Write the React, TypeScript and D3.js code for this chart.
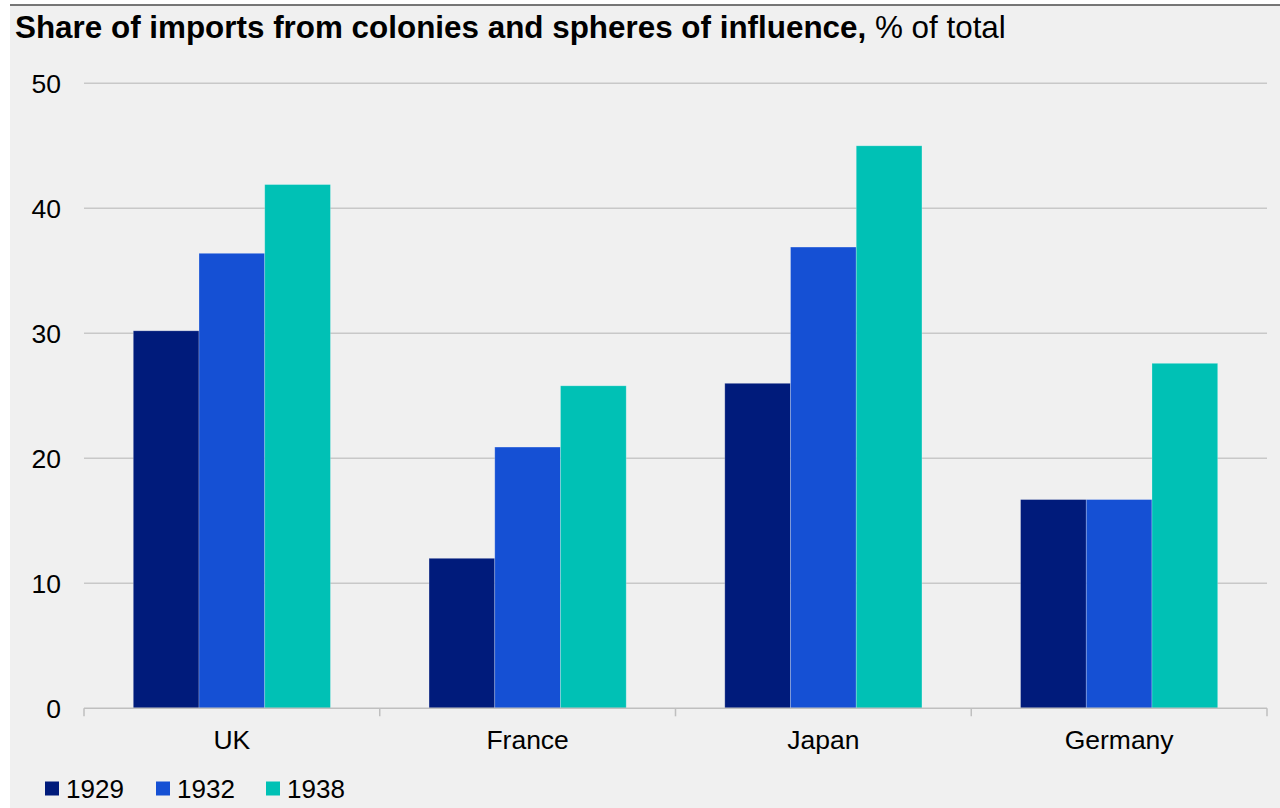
import React from "react";
import * as d3 from "d3";

// Share of imports from colonies and spheres of influence, % of total
const countries = ["UK", "France", "Japan", "Germany"];
const years = ["1929", "1932", "1938"];
const values1929 = [30.2, 12.0, 26.0, 16.7];
const values1932 = [36.4, 20.9, 36.9, 16.7];
const values1938 = [41.9, 25.8, 45.0, 27.6];
const yTicks = [0, 10, 20, 30, 40, 50];
const seriesColors = ["#001b7b", "#1550d4", "#00c1b5"];

const W = 1280;
const H = 808;
const FONT = "'Liberation Sans', Arial, Helvetica, sans-serif";

export default function App() {
  const series = [values1929, values1932, values1938];

  const x = d3.scaleBand<string>().domain(countries).range([84, 1267]).paddingInner(0).paddingOuter(0);
  const xi = d3
    .scaleBand<string>()
    .domain(years)
    .range([0, x.bandwidth()])
    .paddingInner(0)
    .paddingOuter(0.75);
  const y = d3.scaleLinear().domain([0, 50]).range([708.3, 83.3]);

  const tickXs = [...countries.map((c) => x(c) as number), 1267];

  return (
    <svg
      width={W}
      height={H}
      style={{ position: "absolute", left: 0, top: 0, display: "block" }}
      fontFamily={FONT}
    >
      <rect x={0} y={0} width={W} height={H} fill="#ffffff" />
      <rect x={10} y={5.5} width={W - 10} height={H - 5.5} fill="#f0f0f0" />
      <line x1={10} x2={W} y1={5} y2={5} stroke="#4a4a4a" strokeWidth={1.4} />

      {/* Title */}
      <text x={15} y={38} fontSize={31.4} fill="#000">
        <tspan fontWeight="bold">Share of imports from colonies and spheres of influence,</tspan>
        <tspan> % of total</tspan>
      </text>

      {/* Gridlines and y labels */}
      {yTicks.map((t) => (
        <g key={t}>
          {t > 0 && (
            <line x1={84} x2={1267} y1={y(t)} y2={y(t)} stroke="#c8c8c8" strokeWidth={1.5} />
          )}
          <text x={61} y={y(t) + 9.5} fontSize={26.5} textAnchor="end" fill="#000">
            {t}
          </text>
        </g>
      ))}

      {/* Bars */}
      {countries.map((c, ci) => (
        <g key={c} transform={`translate(${x(c)},0)`}>
          {years.map((yr, si) => {
            const v = series[si][ci];
            return (
              <rect
                key={yr}
                x={xi(yr)}
                y={y(v)}
                width={xi.bandwidth()}
                height={y(0) - y(v)}
                fill={seriesColors[si]}
                stroke="#ffffff"
                strokeOpacity={0.3}
                strokeWidth={0.8}
              />
            );
          })}
        </g>
      ))}

      {/* X axis */}
      <line x1={84} x2={1267} y1={y(0)} y2={y(0)} stroke="#bfbfbf" strokeWidth={1.5} />
      {tickXs.map((tx, i) => (
        <line key={i} x1={tx} x2={tx} y1={y(0)} y2={y(0) + 8} stroke="#bfbfbf" strokeWidth={1.5} />
      ))}
      {countries.map((c) => (
        <text
          key={c}
          x={(x(c) as number) + x.bandwidth() / 2}
          y={749}
          fontSize={26.5}
          textAnchor="middle"
          fill="#000"
        >
          {c}
        </text>
      ))}

      {/* Legend */}
      {years.map((yr, i) => {
        const lx = [45, 156, 266][i];
        return (
          <g key={yr}>
            <rect x={lx} y={781.5} width={14} height={14} fill={seriesColors[i]} />
            <text x={lx + 21} y={797.5} fontSize={26} fill="#000">
              {yr}
            </text>
          </g>
        );
      })}
    </svg>
  );
}
